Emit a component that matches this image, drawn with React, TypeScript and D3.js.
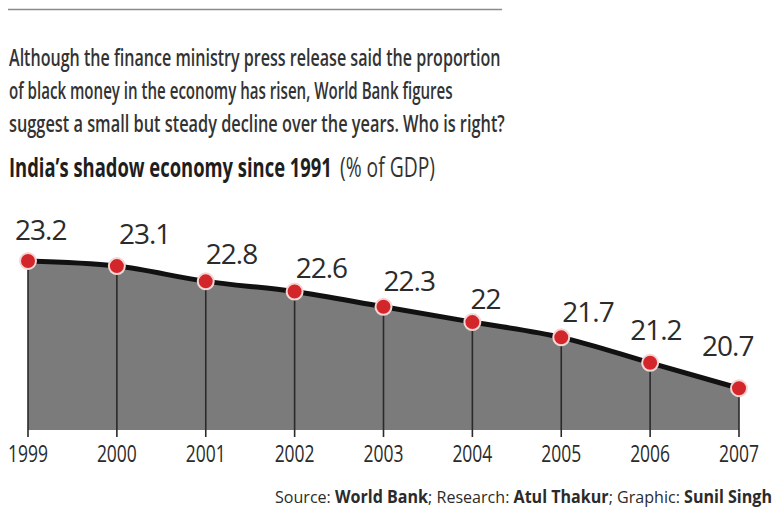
import React, { useLayoutEffect, useRef, useState } from "react";
import * as d3 from "d3";

const years = ["1999", "2000", "2001", "2002", "2003", "2004", "2005", "2006", "2007"];
const shadowShare = [23.2, 23.1, 22.8, 22.6, 22.3, 22, 21.7, 21.2, 20.7];
const valueLabels = ["23.2", "23.1", "22.8", "22.6", "22.3", "22", "21.7", "21.2", "20.7"];
// label nudges (layout only)
const labelDx = [-13, 2, 0, 1, 0, -2, 1, -20, -37];
const labelDy = [-21, -22, -17, -14, -16, -13, -15, -23, -32];

const introLines = [
  "Although the finance ministry press release said the proportion",
  "of black money in the economy has risen, World Bank figures",
  "suggest a small but steady decline over the years. Who is right?",
];
const introWidths = [492, 444, 496];

const font = "'Open Sans', 'Noto Sans', sans-serif";

function FitText(props: {
  x: number;
  y: number;
  width: number;
  size: number;
  weight?: any;
  fill: string;
  children: string;
}) {
  const ref = useRef<SVGTextElement>(null);
  const [sx, setSx] = useState(1);
  useLayoutEffect(() => {
    if (ref.current) {
      const n = ref.current.getComputedTextLength();
      if (n > 0) setSx(props.width / n);
    }
  }, [props.width, props.children]);
  return (
    <g transform={`translate(${props.x},${props.y}) scale(${sx},1)`}>
      <text
        ref={ref}
        x={0}
        y={0}
        fontFamily={font}
        fontSize={props.size}
        fontWeight={props.weight}
        fill={props.fill}
      >
        {props.children}
      </text>
    </g>
  );
}

export default function App() {
  const W = 776;
  const H = 512;
  const x = d3.scalePoint<string>().domain(years).range([28, 739]);
  const y = d3.scaleLinear().domain([19.88, 23.2]).range([430, 261]);
  const base = y(19.88);
  const pts = years.map((yr, i) => ({ yr, v: shadowShare[i], lab: valueLabels[i], i }));

  const area = d3
    .area<typeof pts[0]>()
    .x((d) => x(d.yr)!)
    .y0(base)
    .y1((d) => y(d.v))
    .curve(d3.curveMonotoneX);
  const line = d3
    .line<typeof pts[0]>()
    .x((d) => x(d.yr)!)
    .y((d) => y(d.v))
    .curve(d3.curveMonotoneX);

  return (
    <svg
      width={W}
      height={H}
      viewBox={`0 0 ${W} ${H}`}
      style={{ position: "absolute", left: 0, top: 0, background: "#fff" }}
    >
      <line x1={8} x2={502} y1={9.5} y2={9.5} stroke="#8a8a8a" strokeWidth={1.5} />
      {introLines.map((t, i) => (
        <FitText key={i} x={9} y={66 + i * 33} width={introWidths[i]} size={23} weight={600} fill="#333">
          {t}
        </FitText>
      ))}
      <FitText x={9} y={177} width={323} size={27} weight="bold" fill="#1e1e1e">
        India’s shadow economy since 1991
      </FitText>
      <FitText x={340} y={177} width={95} size={27} fill="#333">
        (% of GDP)
      </FitText>

      <path d={area(pts)!} fill="#7b7b7b" />
      {pts.map((d) => (
        <line
          key={"v" + d.i}
          x1={x(d.yr)}
          x2={x(d.yr)}
          y1={y(d.v)}
          y2={base + 7}
          stroke="#2a2a2a"
          strokeWidth={1.6}
        />
      ))}
      <path d={line(pts)!} fill="none" stroke="#111" strokeWidth={5} strokeLinecap="round" />
      {pts.map((d) => (
        <circle key={"c" + d.i} cx={x(d.yr)} cy={y(d.v)} r={8} fill="#d3262b" stroke="#f4d6d6" strokeWidth={2} />
      ))}
      {pts.map((d) => (
        <text
          key={"l" + d.i}
          x={x(d.yr)! + labelDx[d.i]}
          y={y(d.v) + labelDy[d.i]}
          fontFamily={font}
          fontSize={28}
          letterSpacing={-1}
          fill="#2b2b2b"
        >
          {d.lab}
        </text>
      ))}
      {years.map((yr) => (
        <FitText key={"t" + yr} x={x(yr)! - 20} y={462} width={40} size={23} fill="#2b2b2b">
          {yr}
        </FitText>
      ))}
      <text
        x={772}
        y={503}
        textAnchor="end"
        fontFamily={font}
        fontSize={17}
        fill="#2b2b2b"
        textLength={497}
        lengthAdjust="spacingAndGlyphs"
      >
        <tspan>Source: </tspan>
        <tspan fontWeight="bold">World Bank</tspan>
        <tspan>; Research: </tspan>
        <tspan fontWeight="bold">Atul Thakur</tspan>
        <tspan>; Graphic: </tspan>
        <tspan fontWeight="bold">Sunil Singh</tspan>
      </text>
    </svg>
  );
}
